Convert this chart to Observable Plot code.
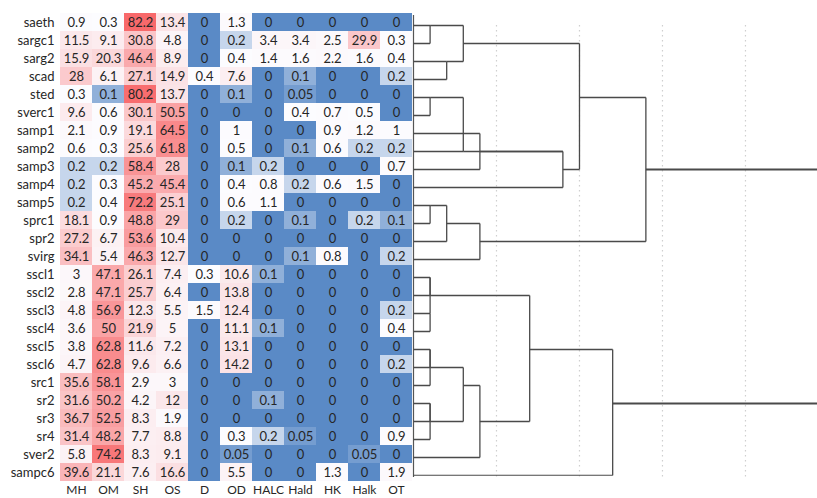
<!DOCTYPE html>
<html>
<head>
<meta charset="utf-8">
<script src="https://cdn.jsdelivr.net/npm/d3@7"></script>
<script src="https://cdn.jsdelivr.net/npm/@observablehq/plot@0.6"></script>
<style>
  body { margin: 0; background: #fff; }
  #wrap { position: relative; width: 817px; height: 498px; overflow: hidden; background: #fff; }
  #wrap svg { position: absolute; left: 0; top: 0; }
</style>
</head>
<body>
<div id="wrap"></div>
<script>
// ---- data ----
const rows = ["saeth","sargc1","sarg2","scad","sted","sverc1","samp1","samp2","samp3","samp4","samp5",
  "sprc1","spr2","svirg","sscl1","sscl2","sscl3","sscl4","sscl5","sscl6","src1","sr2","sr3","sr4","sver2","sampc6"];
const cols = ["MH","OM","SH","OS","D","OD","HALC","Hald","HK","Halk","OT"];

const MH   = [0.9,11.5,15.9,28,0.3,9.6,2.1,0.6,0.2,0.2,0.2,18.1,27.2,34.1,3,2.8,4.8,3.6,3.8,4.7,35.6,31.6,36.7,31.4,5.8,39.6];
const OM   = [0.3,9.1,20.3,6.1,0.1,0.6,0.9,0.3,0.2,0.3,0.4,0.9,6.7,5.4,47.1,47.1,56.9,50,62.8,62.8,58.1,50.2,52.5,48.2,74.2,21.1];
const SH   = [82.2,30.8,46.4,27.1,80.2,30.1,19.1,25.6,58.4,45.2,72.2,48.8,53.6,46.3,26.1,25.7,12.3,21.9,11.6,9.6,2.9,4.2,8.3,7.7,8.3,7.6];
const OS   = [13.4,4.8,8.9,14.9,13.7,50.5,64.5,61.8,28,45.4,25.1,29,10.4,12.7,7.4,6.4,5.5,5,7.2,6.6,3,12,1.9,8.8,9.1,16.6];
const D    = [0,0,0,0.4,0,0,0,0,0,0,0,0,0,0,0.3,0,1.5,0,0,0,0,0,0,0,0,0];
const OD   = [1.3,0.2,0.4,7.6,0.1,0,1,0.5,0.1,0.4,0.6,0.2,0,0,10.6,13.8,12.4,11.1,13.1,14.2,0,0,0,0.3,0.05,5.5];
const HALC = [0,3.4,1.4,0,0,0,0,0,0.2,0.8,1.1,0,0,0,0.1,0,0,0.1,0,0,0,0.1,0,0.2,0,0];
const Hald = [0,3.4,1.6,0.1,0.05,0.4,0,0.1,0,0.2,0,0.1,0,0.1,0,0,0,0,0,0,0,0,0,0.05,0,0];
const HK   = [0,2.5,2.2,0,0,0.7,0.9,0.6,0,0.6,0,0,0,0.8,0,0,0,0,0,0,0,0,0,0,0,1.3];
const Halk = [0,29.9,1.6,0,0,0.5,1.2,0.2,0,1.5,0,0.2,0,0,0,0,0,0,0,0,0,0,0,0,0.05,0];
const OT   = [0,0.3,0.4,0.2,0,0,1,0.2,0.7,0,0,0.1,0,0.2,0,0,0.2,0.4,0,0.2,0,0,0,0.9,0,1.9];

// dendrogram merges: [node, height, children]
const merges = [
  ["n1", 1, ["saeth","sargc1"]],
  ["n2", 2, ["sarg2","scad"]],
  ["n3", 3, ["n1","n2"]],
  ["n4", 1, ["sted","sverc1"]],
  ["n5", 3, ["n4","samp2"]],
  ["n6", 4, ["samp1","samp3"]],
  ["n7", 9, ["n5","n6","samp4"]],
  ["n8", 10, ["n3","n7"]],
  ["n9", 1, ["samp5","sprc1"]],
  ["n10", 2, ["n9","spr2"]],
  ["n11", 4, ["n10","svirg"]],
  ["n12", 14, ["n8","n11"]],
  ["m1", 1, ["sscl1","sscl2"]],
  ["m2", 1, ["sscl3","sscl4"]],
  ["m3", 1, ["m1","m2"]],
  ["m4", 1, ["sscl5","sscl6"]],
  ["m5", 1, ["m4","src1"]],
  ["m6", 1, ["sr2","sr3"]],
  ["m7", 1, ["m6","sr4"]],
  ["m8", 3, ["m5","m7"]],
  ["m9", 4, ["m8","sver2"]],
  ["m10", 7, ["m3","m9"]],
  ["m11", 12, ["m10","sampc6"]],
  ["root", 30, ["n12","m11"]]
];
// row at which a node's branch is drawn, where the picture departs from the mid-row rule
const anchors = {n5: "samp2"};
const gridTicks = [5, 10, 15, 20];

// ---- build tables ----
const columns = {MH, OM, SH, OS, D, OD, HALC, Hald, HK, Halk, OT};
const cells = rows.flatMap((r, i) => cols.map(c => ({row: r, col: c, v: columns[c][i]})));
const allVals = cells.map(d => d.v);
const vmax = d3.max(allVals);
const vmid = d3.median(allVals);

const rowIdx = new Map(rows.map((r, i) => [r, i]));
const node = new Map(rows.map(r => [r, {h: 0, ri: rowIdx.get(r)}]));
const verticals = [], horizontals = [];
for (const [id, h, kids] of merges) {
  const ks = kids.map(k => node.get(k));
  const lo = d3.min(ks, k => k.ri), hi = d3.max(ks, k => k.ri);
  const ri = anchors[id] ? rowIdx.get(anchors[id]) : Math.floor((lo + hi) / 2);
  node.set(id, {h, ri});
  verticals.push({h, a: rows[lo], b: rows[hi]});
  for (const k of ks) horizontals.push({h1: k.h, h2: h, row: rows[k.ri], root: id === "root"});
}
const firstRow = rows[0], lastRow = rows[rows.length - 1];

const font = "Lato, 'Open Sans', sans-serif";
const interp = d3.piecewise(d3.interpolateRgb, ["#5A8AC6", "#FCFCFF", "#F8696B"]);

const heat = Plot.plot({
  width: 817, height: 498,
  marginLeft: 59, marginRight: 405, marginTop: 13, marginBottom: 17,
  style: {fontFamily: font, background: "#fff", color: "#262626", overflow: "hidden"},
  x: {domain: cols, padding: 0, label: null},
  y: {domain: rows, padding: 0, label: null},
  color: {type: "diverging", domain: [0, vmax], pivot: vmid, symmetric: false, interpolate: t => interp(t)},
  marks: [
    Plot.cell(cells, {x: "col", y: "row", fill: "v", inset: 0, shapeRendering: "crispEdges"}),
    Plot.text(cells, {x: "col", y: "row", text: d => String(d.v), fontSize: 13, fill: "#262626"}),
    Plot.axisX({tickSize: 0, tickPadding: 4, fontSize: 12, label: null, fill: "#262626"}),
    Plot.axisY({tickSize: 0, tickPadding: 5, fontSize: 13, label: null, fill: "#262626"})
  ]
});

const dendro = Plot.plot({
  width: 817, height: 498,
  marginLeft: 413, marginRight: 0, marginTop: 23.3, marginBottom: 22.2,
  style: {background: "transparent", overflow: "hidden"},
  x: {domain: [0, 24.34], axis: null},
  y: {type: "point", domain: rows, padding: 0, axis: null},
  marks: [
    Plot.ruleX(gridTicks, {x: d => d, y1: () => firstRow, y2: () => lastRow, insetBottom: -2,
      stroke: "#cfcfcf", strokeWidth: 1.2, strokeDasharray: "1.5,3.5"}),
    Plot.ruleX([0], {x: d => d, y1: () => firstRow, y2: () => lastRow, insetTop: -10, insetBottom: -2,
      stroke: "#555", strokeWidth: 1.2}),
    Plot.link(horizontals, {x1: "h1", x2: "h2", y1: "row", y2: "row",
      stroke: "#4a4a4a", strokeWidth: d => d.root ? 2 : 1.3, clip: true}),
    Plot.link(verticals, {x1: "h", x2: "h", y1: "a", y2: "b", stroke: "#4a4a4a", strokeWidth: 1.3, clip: true})
  ]
});

const wrap = document.getElementById("wrap");
wrap.appendChild(heat);
wrap.appendChild(dendro);
</script>
</body>
</html>
